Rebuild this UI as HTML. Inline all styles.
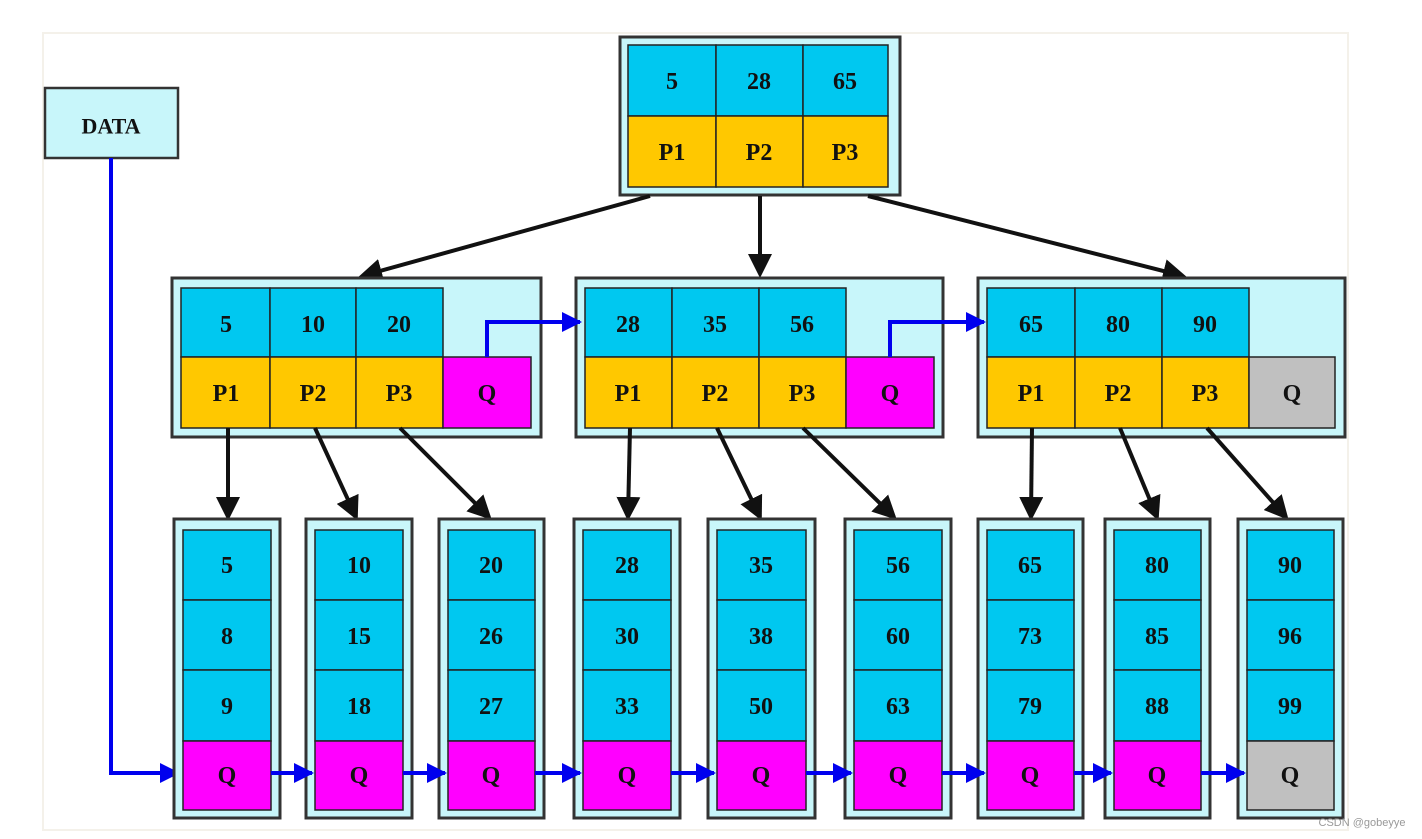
<!DOCTYPE html>
<html><head><meta charset="utf-8"><style>
html,body{margin:0;padding:0;background:#fff;}
svg{display:block}
text{font-family:"Liberation Serif",serif;font-weight:bold;font-size:24px;fill:#111;text-anchor:middle;dominant-baseline:central}
.c{stroke:#222;stroke-width:1.5}
.o{fill:#c8f6fa;stroke:#333;stroke-width:3}
</style></head><body>
<svg width="1422" height="839" viewBox="0 0 1422 839" xmlns="http://www.w3.org/2000/svg">
<defs>
<marker id="ak" markerWidth="6" markerHeight="6" refX="5" refY="3" orient="auto" markerUnits="strokeWidth"><path d="M0,0 L6,3 L0,6 z" fill="#111"/></marker>
<marker id="ab" markerWidth="5" markerHeight="5" refX="4.5" refY="2.5" orient="auto" markerUnits="strokeWidth"><path d="M0,0 L5,2.5 L0,5 z" fill="#0000ee"/></marker>
</defs>
<rect x="43" y="33" width="1305" height="797" fill="#fff" stroke="#f4f1ea" stroke-width="2"/>
<!-- DATA -->
<rect x="45" y="88" width="133" height="70" fill="#c8f6fa" stroke="#333" stroke-width="2.5"/>
<text x="111" y="126" style="font-size:22px">DATA</text>
<polyline points="111,158 111,773 178,773" fill="none" stroke="#0000ee" stroke-width="4" marker-end="url(#ab)"/>
<!-- root -->
<rect class="o" x="620" y="37" width="280" height="158"/>
<g class="c">
<rect x="628" y="45" width="88" height="71" fill="#00c8f0"/><rect x="716" y="45" width="87" height="71" fill="#00c8f0"/><rect x="803" y="45" width="85" height="71" fill="#00c8f0"/>
<rect x="628" y="116" width="88" height="71" fill="#ffc800"/><rect x="716" y="116" width="87" height="71" fill="#ffc800"/><rect x="803" y="116" width="85" height="71" fill="#ffc800"/>
</g>
<text x="672" y="82">5</text><text x="759" y="82">28</text><text x="845" y="82">65</text>
<text x="672" y="153">P1</text><text x="759" y="153">P2</text><text x="845" y="153">P3</text>
<g stroke="#111" stroke-width="4" fill="none" marker-end="url(#ak)">
<line x1="650" y1="196" x2="362" y2="276"/>
<line x1="760" y1="196" x2="760" y2="274"/>
<line x1="868" y1="196" x2="1183" y2="276"/>
</g>
<!-- internal nodes -->
<g id="n1">
<rect class="o" x="172" y="278" width="369" height="159"/>
<g class="c">
<rect x="181" y="288" width="89" height="69" fill="#00c8f0"/><rect x="270" y="288" width="86" height="69" fill="#00c8f0"/><rect x="356" y="288" width="87" height="69" fill="#00c8f0"/>
<rect x="181" y="357" width="89" height="71" fill="#ffc800"/><rect x="270" y="357" width="86" height="71" fill="#ffc800"/><rect x="356" y="357" width="87" height="71" fill="#ffc800"/>
<rect x="443" y="357" width="88" height="71" fill="#ff00ff"/>
</g>
<text x="226" y="325">5</text><text x="313" y="325">10</text><text x="399" y="325">20</text>
<text x="226" y="394">P1</text><text x="313" y="394">P2</text><text x="399" y="394">P3</text><text x="487" y="394">Q</text>
</g>
<rect class="o" x="576" y="278" width="367" height="159"/>
<g class="c">
<rect x="585" y="288" width="87" height="69" fill="#00c8f0"/><rect x="672" y="288" width="87" height="69" fill="#00c8f0"/><rect x="759" y="288" width="87" height="69" fill="#00c8f0"/>
<rect x="585" y="357" width="87" height="71" fill="#ffc800"/><rect x="672" y="357" width="87" height="71" fill="#ffc800"/><rect x="759" y="357" width="87" height="71" fill="#ffc800"/>
<rect x="846" y="357" width="88" height="71" fill="#ff00ff"/>
</g>
<text x="628" y="325">28</text><text x="715" y="325">35</text><text x="802" y="325">56</text>
<text x="628" y="394">P1</text><text x="715" y="394">P2</text><text x="802" y="394">P3</text><text x="890" y="394">Q</text>
<rect class="o" x="978" y="278" width="367" height="159"/>
<g class="c">
<rect x="987" y="288" width="88" height="69" fill="#00c8f0"/><rect x="1075" y="288" width="87" height="69" fill="#00c8f0"/><rect x="1162" y="288" width="87" height="69" fill="#00c8f0"/>
<rect x="987" y="357" width="88" height="71" fill="#ffc800"/><rect x="1075" y="357" width="87" height="71" fill="#ffc800"/><rect x="1162" y="357" width="87" height="71" fill="#ffc800"/>
<rect x="1249" y="357" width="86" height="71" fill="#c0c0c0"/>
</g>
<text x="1031" y="325">65</text><text x="1118" y="325">80</text><text x="1205" y="325">90</text>
<text x="1031" y="394">P1</text><text x="1118" y="394">P2</text><text x="1205" y="394">P3</text><text x="1292" y="394">Q</text>
<g stroke="#0000ee" stroke-width="4" fill="none" marker-end="url(#ab)">
<polyline points="487,357 487,322 580,322"/>
<polyline points="890,357 890,322 984,322"/>
</g>
<!-- internal to leaves -->
<g stroke="#111" stroke-width="4" fill="none" marker-end="url(#ak)">
<line x1="228" y1="428" x2="228" y2="517"/><line x1="315" y1="428" x2="356" y2="517"/><line x1="400" y1="428" x2="489" y2="517"/>
<line x1="630" y1="428" x2="628" y2="517"/><line x1="717" y1="428" x2="760" y2="517"/><line x1="803" y1="428" x2="894" y2="517"/>
<line x1="1032" y1="428" x2="1031" y2="517"/><line x1="1120" y1="428" x2="1157" y2="517"/><line x1="1207" y1="428" x2="1286" y2="517"/>
</g>
<!-- leaves -->
<g id="leaves"></g>
<g>
<rect class="o" x="174" y="519" width="106" height="299"/><g class="c"><rect x="183" y="530" width="88" height="70" fill="#00c8f0"/><rect x="183" y="600" width="88" height="70" fill="#00c8f0"/><rect x="183" y="670" width="88" height="71" fill="#00c8f0"/><rect x="183" y="741" width="88" height="69" fill="#ff00ff"/></g>
<text x="227" y="566">5</text><text x="227" y="637">8</text><text x="227" y="707">9</text><text x="227" y="776">Q</text>
<rect class="o" x="306" y="519" width="106" height="299"/><g class="c"><rect x="315" y="530" width="88" height="70" fill="#00c8f0"/><rect x="315" y="600" width="88" height="70" fill="#00c8f0"/><rect x="315" y="670" width="88" height="71" fill="#00c8f0"/><rect x="315" y="741" width="88" height="69" fill="#ff00ff"/></g>
<text x="359" y="566">10</text><text x="359" y="637">15</text><text x="359" y="707">18</text><text x="359" y="776">Q</text>
<rect class="o" x="439" y="519" width="105" height="299"/><g class="c"><rect x="448" y="530" width="87" height="70" fill="#00c8f0"/><rect x="448" y="600" width="87" height="70" fill="#00c8f0"/><rect x="448" y="670" width="87" height="71" fill="#00c8f0"/><rect x="448" y="741" width="87" height="69" fill="#ff00ff"/></g>
<text x="491" y="566">20</text><text x="491" y="637">26</text><text x="491" y="707">27</text><text x="491" y="776">Q</text>
<rect class="o" x="574" y="519" width="106" height="299"/><g class="c"><rect x="583" y="530" width="88" height="70" fill="#00c8f0"/><rect x="583" y="600" width="88" height="70" fill="#00c8f0"/><rect x="583" y="670" width="88" height="71" fill="#00c8f0"/><rect x="583" y="741" width="88" height="69" fill="#ff00ff"/></g>
<text x="627" y="566">28</text><text x="627" y="637">30</text><text x="627" y="707">33</text><text x="627" y="776">Q</text>
<rect class="o" x="708" y="519" width="107" height="299"/><g class="c"><rect x="717" y="530" width="89" height="70" fill="#00c8f0"/><rect x="717" y="600" width="89" height="70" fill="#00c8f0"/><rect x="717" y="670" width="89" height="71" fill="#00c8f0"/><rect x="717" y="741" width="89" height="69" fill="#ff00ff"/></g>
<text x="761" y="566">35</text><text x="761" y="637">38</text><text x="761" y="707">50</text><text x="761" y="776">Q</text>
<rect class="o" x="845" y="519" width="106" height="299"/><g class="c"><rect x="854" y="530" width="88" height="70" fill="#00c8f0"/><rect x="854" y="600" width="88" height="70" fill="#00c8f0"/><rect x="854" y="670" width="88" height="71" fill="#00c8f0"/><rect x="854" y="741" width="88" height="69" fill="#ff00ff"/></g>
<text x="898" y="566">56</text><text x="898" y="637">60</text><text x="898" y="707">63</text><text x="898" y="776">Q</text>
<rect class="o" x="978" y="519" width="105" height="299"/><g class="c"><rect x="987" y="530" width="87" height="70" fill="#00c8f0"/><rect x="987" y="600" width="87" height="70" fill="#00c8f0"/><rect x="987" y="670" width="87" height="71" fill="#00c8f0"/><rect x="987" y="741" width="87" height="69" fill="#ff00ff"/></g>
<text x="1030" y="566">65</text><text x="1030" y="637">73</text><text x="1030" y="707">79</text><text x="1030" y="776">Q</text>
<rect class="o" x="1105" y="519" width="105" height="299"/><g class="c"><rect x="1114" y="530" width="87" height="70" fill="#00c8f0"/><rect x="1114" y="600" width="87" height="70" fill="#00c8f0"/><rect x="1114" y="670" width="87" height="71" fill="#00c8f0"/><rect x="1114" y="741" width="87" height="69" fill="#ff00ff"/></g>
<text x="1157" y="566">80</text><text x="1157" y="637">85</text><text x="1157" y="707">88</text><text x="1157" y="776">Q</text>
<rect class="o" x="1238" y="519" width="105" height="299"/><g class="c"><rect x="1247" y="530" width="87" height="70" fill="#00c8f0"/><rect x="1247" y="600" width="87" height="70" fill="#00c8f0"/><rect x="1247" y="670" width="87" height="71" fill="#00c8f0"/><rect x="1247" y="741" width="87" height="69" fill="#c0c0c0"/></g>
<text x="1290" y="566">90</text><text x="1290" y="637">96</text><text x="1290" y="707">99</text><text x="1290" y="776">Q</text>
</g>
<g stroke="#0000ee" stroke-width="4" fill="none" marker-end="url(#ab)">
<line x1="271" y1="773" x2="312" y2="773"/><line x1="403" y1="773" x2="445" y2="773"/><line x1="535" y1="773" x2="580" y2="773"/>
<line x1="671" y1="773" x2="714" y2="773"/><line x1="806" y1="773" x2="851" y2="773"/><line x1="942" y1="773" x2="984" y2="773"/>
<line x1="1074" y1="773" x2="1111" y2="773"/><line x1="1201" y1="773" x2="1244" y2="773"/>
</g>
<text x="1362" y="823" style="font-family:'Liberation Sans',sans-serif;font-weight:normal;font-size:11px;fill:#999">CSDN @gobeyye</text>
</svg>
</body></html>
